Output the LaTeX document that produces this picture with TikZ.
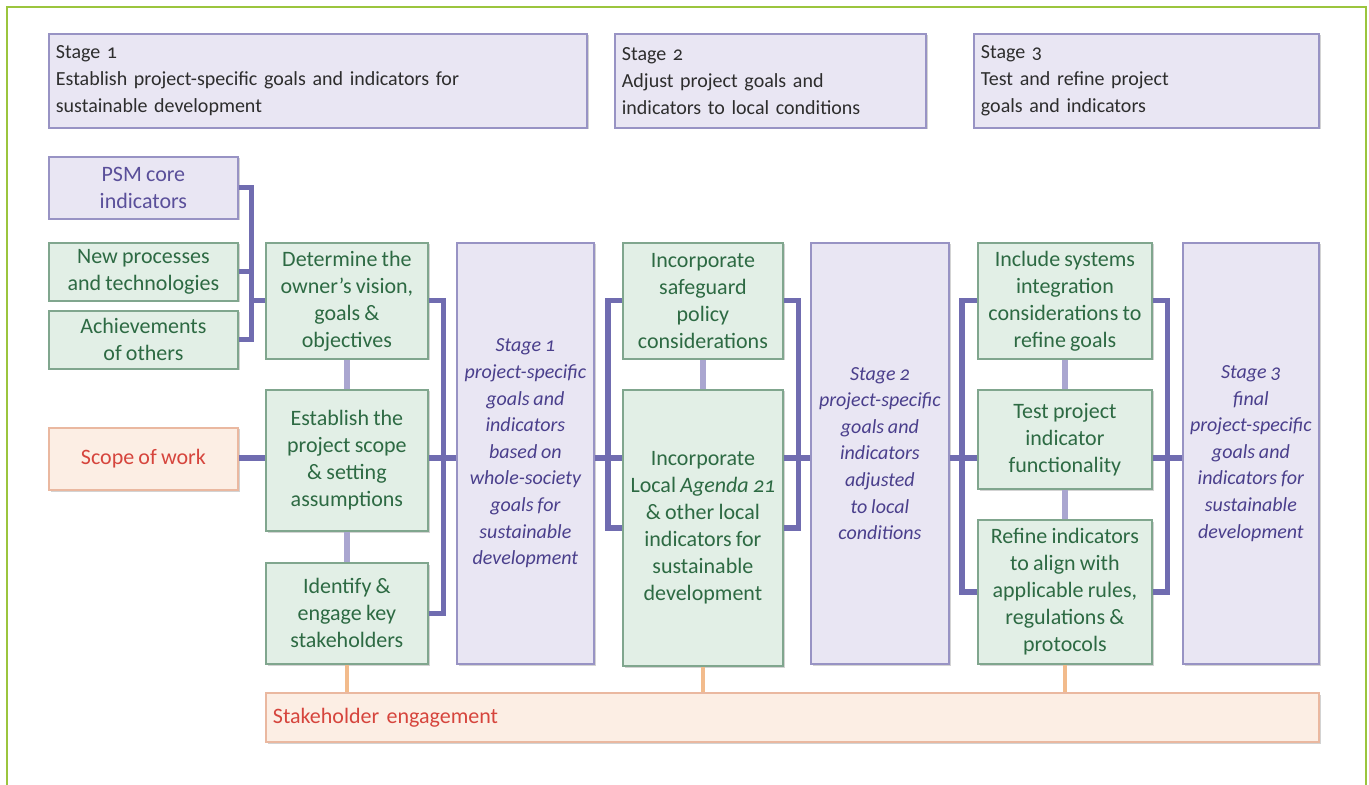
\documentclass[tikz,border=0pt]{standalone}
\usepackage{fontspec}
\setmainfont{Carlito}[Numbers=OldStyle, WordSpace=0.85]
\usetikzlibrary{calc,shadows}

\definecolor{lilac}{RGB}{233,230,243}
\definecolor{lilacline}{RGB}{152,147,196}
\definecolor{mint}{RGB}{226,239,230}
\definecolor{mintline}{RGB}{128,166,142}
\definecolor{minttext}{RGB}{45,106,67}
\definecolor{peach}{RGB}{252,238,228}
\definecolor{peachline}{RGB}{234,184,160}
\definecolor{scopetext}{RGB}{214,69,61}
\definecolor{busline}{RGB}{112,108,176}
\definecolor{linkline}{RGB}{170,166,208}
\definecolor{feedline}{RGB}{242,187,140}
\definecolor{framegreen}{RGB}{155,197,61}
\definecolor{stagetext}{RGB}{74,63,140}
\definecolor{psmtext}{RGB}{90,79,154}
\definecolor{hdrtext}{RGB}{45,45,45}

\begin{document}
\begin{tikzpicture}[x=0.5pt, y=-0.5pt,
  box/.style={draw, line width=0.9pt, anchor=north west, inner sep=0pt, align=center,
    font=\fontsize{11}{13.5}\selectfont,
    drop shadow={shadow xshift=0.8pt, shadow yshift=-0.8pt, fill=black!50, opacity=0.35}},
  hdr/.style={box, fill=lilac, draw=lilacline, align=left, inner xsep=3.5pt,
    font=\fontsize{10}{13.5}\selectfont, text=hdrtext},
  grn/.style={box, fill=mint, draw=mintline, text=minttext},
  lil/.style={box, fill=lilac, draw=lilacline, text=psmtext},
  stg/.style={box, fill=lilac, draw=lilacline, text=stagetext,
    font=\fontsize{10}{13.3}\selectfont\itshape},
  org/.style={box, fill=peach, draw=peachline, text=scopetext},
  bus/.style={draw=busline, line width=2.6pt},
  link/.style={draw=linkline, line width=2.6pt},
  feed/.style={draw=feedline, line width=1.6pt}]

\useasboundingbox (0,0) rectangle (1369,785);
\draw [framegreen, line width=1.2pt] (7,785) -- (7,7) -- (1366,7) -- (1366,785);

% stage headers
\node [hdr, text width=262pt, minimum height=47pt] at (48,33) (hd1)
  {Stage 1\\Establish project-specific goals and indicators for\\sustainable development};
\node [hdr, text width=148.5pt, minimum height=47pt] at (614,33) (hd2)
  {Stage 2\\Adjust project goals and\\indicators to local conditions};
\node [hdr, text width=165.5pt, minimum height=47pt] at (973,33) (hd3)
  {Stage 3\\Test and refine project\\goals and indicators};

% inputs
\node [lil, minimum width=94.5pt, minimum height=31pt] at (48,156) (psm) {PSM core\\indicators};
\node [grn, minimum width=94.5pt, minimum height=29pt] at (48,242) (new) {New processes\\and technologies};
\node [grn, minimum width=94.5pt, minimum height=29pt] at (48,310) (ach) {Achievements\\of others};
\node [org, minimum width=94.5pt, minimum height=31pt] at (48,427) (scope) {Scope of work};

% stage 1
\node [grn, minimum width=81pt, minimum height=58pt] at (265,242) (det) {Determine the\\owner's vision,\\goals \&\\objectives};
\node [grn, minimum width=81pt, minimum height=70.5pt] at (265,389) (est) {Establish the\\project scope\\\& setting\\assumptions};
\node [grn, minimum width=81pt, minimum height=50.5pt] at (265,562) (idt) {Identify \&\\engage key\\stakeholders};
\node [stg, minimum width=68.5pt, minimum height=210.5pt] at (456,242) (st1)
  {Stage 1\\project-specific\\goals and\\indicators\\based on\\whole-society\\goals for\\sustainable\\development};

% stage 2
\node [grn, minimum width=80pt, minimum height=58pt] at (622,242) (sfg) {Incorporate\\safeguard\\policy\\considerations};
\node [grn, minimum width=80pt, minimum height=138pt] at (622,389) (agd)
  {Incorporate\\Local \textit{Agenda 21}\\\& other local\\indicators for\\sustainable\\development};
\node [stg, minimum width=69pt, minimum height=210.5pt] at (810,242) (st2)
  {Stage 2\\project-specific\\goals and\\indicators\\adjusted\\to local\\conditions};

% stage 3
\node [grn, minimum width=87pt, minimum height=58pt] at (977,242) (inc) {Include systems\\integration\\considerations to\\refine goals};
\node [grn, minimum width=87pt, minimum height=49.5pt] at (977,389) (tst) {Test project\\indicator\\functionality};
\node [grn, minimum width=87pt, minimum height=72pt] at (977,519) (ref)
  {Refine indicators\\to align with\\applicable rules,\\regulations \&\\protocols};
\node [stg, minimum width=68pt, minimum height=210.5pt] at (1182,242) (st3)
  {Stage 3\\final\\project-specific\\goals and\\indicators for\\sustainable\\development};

\node [org, align=left, inner xsep=3.5pt, text width=519.5pt, minimum height=24.5pt] at (265,692) (stk)
  {Stakeholder engagement};

\coordinate (mid) at (700,458);

% connectors
\draw [bus] (psm.east) -- ++(13,0) |- (ach.east);
\draw [bus] (new.east) -- ++(13,0);
\draw [bus] (det.west) -- ++(-15,0);
\draw [bus] (scope.east |- mid) -- (est.west |- mid);
\draw [bus] (det.east) -- ++(15,0) |- (idt.east);
\draw [bus] (est.east |- mid) -- (st1.west |- mid);
\draw [bus] (st1.east |- mid) -- (agd.west |- mid);
\draw [bus] (sfg.west) -- ++(-14,0) |- (agd.west);
\draw [bus] (sfg.east) -- ++(15,0) |- (agd.east);
\draw [bus] (agd.east |- mid) -- (st2.west |- mid);
\draw [bus] (st2.east |- mid) -- (tst.west |- mid);
\draw [bus] (inc.west) -- ++(-15,0) |- (ref.west);
\draw [bus] (inc.east) -- ++(15,0) |- (ref.east);
\draw [bus] (tst.east |- mid) -- (st3.west |- mid);

\draw [link] (det.south) -- (est.north);
\draw [link] (est.south) -- (idt.north);
\draw [link] (sfg.south) -- (agd.north);
\draw [link] (inc.south) -- (tst.north);
\draw [link] (tst.south) -- (ref.north);

\draw [feed] (idt.south) -- (idt.south |- stk.north);
\draw [feed] (agd.south) -- (agd.south |- stk.north);
\draw [feed] (ref.south) -- (ref.south |- stk.north);

\end{tikzpicture}
\end{document}
